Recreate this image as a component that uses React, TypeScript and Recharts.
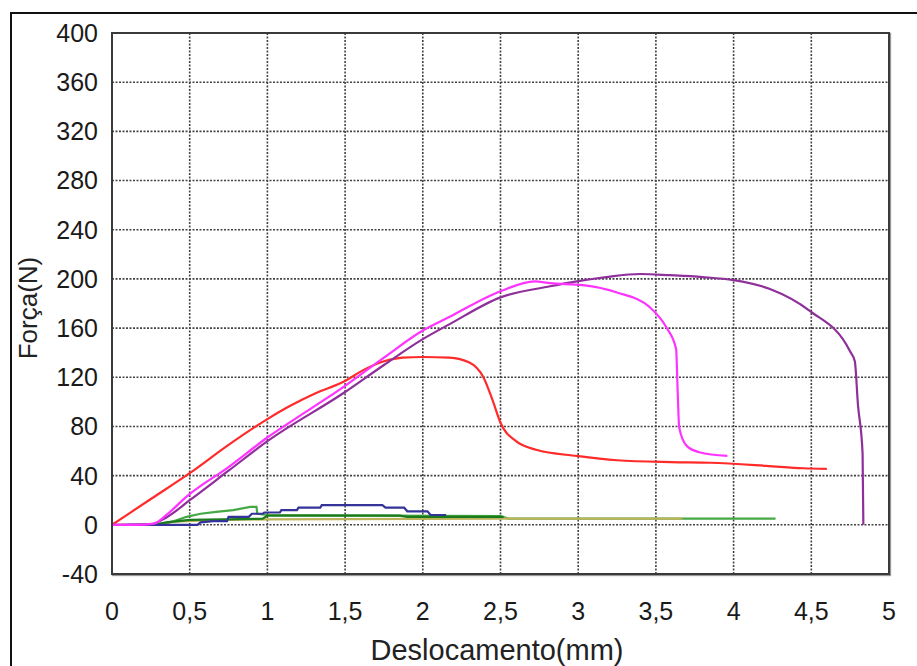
import { LineChart, Line, XAxis, YAxis, CartesianGrid, Label } from "recharts";

// deslocamento (mm) x força (N)
const vermelho = [
  { x: 0, y: 0 }, { x: 0.25, y: 21 }, { x: 0.5, y: 42 }, { x: 0.75, y: 65 },
  { x: 1.0, y: 86 }, { x: 1.15, y: 97 }, { x: 1.31, y: 107 }, { x: 1.5, y: 117 },
  { x: 1.62, y: 126 }, { x: 1.75, y: 133 }, { x: 1.87, y: 136 }, { x: 2.0, y: 136.5 },
  { x: 2.17, y: 136 }, { x: 2.3, y: 132 }, { x: 2.39, y: 120 }, { x: 2.45, y: 101 },
  { x: 2.5, y: 83 }, { x: 2.6, y: 68 }, { x: 2.73, y: 61 }, { x: 2.99, y: 56 },
  { x: 3.25, y: 52.5 }, { x: 3.6, y: 51 }, { x: 3.85, y: 50.5 }, { x: 4.21, y: 48 },
  { x: 4.45, y: 46 }, { x: 4.6, y: 45.5 },
];

const magenta = [
  { x: 0, y: 0 }, { x: 0.15, y: 0 }, { x: 0.27, y: 1 }, { x: 0.35, y: 8 },
  { x: 0.48, y: 23 }, { x: 0.75, y: 47 }, { x: 1.0, y: 71 }, { x: 1.25, y: 92 },
  { x: 1.5, y: 113 }, { x: 1.75, y: 136 }, { x: 2.0, y: 158 }, { x: 2.17, y: 169 },
  { x: 2.5, y: 190 }, { x: 2.72, y: 198 }, { x: 2.82, y: 196.5 }, { x: 3.03, y: 195 },
  { x: 3.25, y: 189 }, { x: 3.46, y: 177 }, { x: 3.57, y: 160 }, { x: 3.63, y: 143 },
  { x: 3.64, y: 109 }, { x: 3.65, y: 79 }, { x: 3.7, y: 64 }, { x: 3.78, y: 59 },
  { x: 3.96, y: 56 },
];

const roxo = [
  { x: 0, y: 0 }, { x: 0.25, y: 0.5 }, { x: 0.35, y: 6 }, { x: 0.5, y: 20 },
  { x: 0.75, y: 44 }, { x: 1.0, y: 68 }, { x: 1.5, y: 108 }, { x: 1.75, y: 130 },
  { x: 2.0, y: 151 }, { x: 2.17, y: 163 }, { x: 2.5, y: 185 }, { x: 2.82, y: 194 },
  { x: 2.99, y: 198 }, { x: 3.18, y: 201.5 }, { x: 3.4, y: 204 }, { x: 3.59, y: 203 },
  { x: 3.8, y: 201.5 }, { x: 4.0, y: 199 }, { x: 4.23, y: 192 }, { x: 4.49, y: 174 },
  { x: 4.75, y: 141 }, { x: 4.78, y: 133 }, { x: 4.8, y: 98 }, { x: 4.83, y: 58 },
  { x: 4.835, y: 0 },
];

const verdeClaro = [
  { x: 0.3, y: 0 }, { x: 0.4, y: 3 }, { x: 0.48, y: 6.5 }, { x: 0.57, y: 9 },
  { x: 0.67, y: 10.6 }, { x: 0.78, y: 12 }, { x: 0.89, y: 14.6 }, { x: 0.93, y: 14.6 },
  { x: 0.935, y: 9 }, { x: 1.0, y: 8 }, { x: 2.5, y: 7 }, { x: 2.55, y: 5 },
  { x: 4.27, y: 5 },
];

const oliva = [
  { x: 0.25, y: 0 }, { x: 0.4, y: 2.5 }, { x: 0.6, y: 3.5 }, { x: 1.0, y: 4.5 },
  { x: 2.5, y: 5 }, { x: 3.67, y: 5 },
];

const verdeEscuro = [
  { x: 0.27, y: 0 }, { x: 0.35, y: 2 }, { x: 0.5, y: 4 }, { x: 0.97, y: 5 },
  { x: 1.0, y: 7.5 }, { x: 1.85, y: 7.5 }, { x: 1.9, y: 6.5 }, { x: 2.52, y: 6.5 },
];

const azul = [
  { x: 0.1, y: 0 }, { x: 0.55, y: 0 }, { x: 0.57, y: 2 }, { x: 0.65, y: 3 },
  { x: 0.74, y: 3 }, { x: 0.75, y: 6.5 }, { x: 0.88, y: 6.5 }, { x: 0.9, y: 9 },
  { x: 0.97, y: 9 }, { x: 0.98, y: 10 }, { x: 1.08, y: 10 }, { x: 1.09, y: 12 },
  { x: 1.19, y: 12 }, { x: 1.2, y: 14 }, { x: 1.34, y: 14 }, { x: 1.35, y: 16 },
  { x: 1.74, y: 16 }, { x: 1.76, y: 14 }, { x: 1.88, y: 14 }, { x: 1.9, y: 11 },
  { x: 2.03, y: 11 }, { x: 2.05, y: 8 }, { x: 2.15, y: 8 },
];

const xTicks = [0, 0.5, 1, 1.5, 2, 2.5, 3, 3.5, 4, 4.5, 5];
const yTicks = [-40, 0, 40, 80, 120, 160, 200, 240, 280, 320, 360, 400];

const series = [
  { name: "verdeClaro", data: verdeClaro, color: "#44A844", curve: "linear" },
  { name: "oliva", data: oliva, color: "#BDB35A", curve: "linear" },
  { name: "verdeEscuro", data: verdeEscuro, color: "#1B7A1B", curve: "linear" },
  { name: "azul", data: azul, color: "#33339A", curve: "linear" },
  { name: "vermelho", data: vermelho, color: "#FF2A2A", curve: "monotone" },
  { name: "roxo", data: roxo, color: "#8E2F9A", curve: "monotone" },
  { name: "magenta", data: magenta, color: "#FF33FF", curve: "monotone" },
];

const font = "'Liberation Sans', Arial, sans-serif";
const tickStyle = { fontSize: 25, fill: "#1a1a1a", fontFamily: font };

export default function App() {
  return (
    <div style={{ position: "fixed", left: 0, top: 0, width: 917, height: 666, background: "#fff", overflow: "hidden" }}>
      <div
        style={{
          position: "absolute",
          left: 10,
          top: 12,
          width: 940,
          height: 700,
          border: "2px solid #111",
          boxSizing: "border-box",
        }}
      />
      <div style={{ position: "absolute", left: 0, top: 0 }}>
        <LineChart width={917} height={666} margin={{ top: 33, right: 28, bottom: 32, left: 32 }}>
          <CartesianGrid stroke="#444" strokeDasharray="2 1.5" strokeWidth={1.6} />
          <XAxis
            type="number"
            dataKey="x"
            domain={[0, 5]}
            ticks={xTicks}
            allowDataOverflow
            height={60}
            tickSize={0}
            tickMargin={28}
            axisLine={false}
            tick={tickStyle}
            tickFormatter={(v) => String(v).replace(".", ",")}
          >
            <Label
              content={() => (
                <text x={497} y={660} textAnchor="middle" fontSize={29} fill="#222" fontFamily={font}>
                  Deslocamento(mm)
                </text>
              )}
            />
          </XAxis>
          <YAxis
            type="number"
            domain={[-40, 400]}
            ticks={yTicks}
            allowDataOverflow
            width={80}
            tickSize={0}
            tickMargin={14}
            axisLine={false}
            tick={tickStyle}
          >
            <Label
              content={() => (
                <text
                  x={28}
                  y={308}
                  textAnchor="middle"
                  dominantBaseline="central"
                  transform="rotate(-90 28 308)"
                  fontSize={26}
                  fill="#222"
                  fontFamily={font}
                >
                  Força(N)
                </text>
              )}
            />
          </YAxis>
          {series.map((s) => (
            <Line
              key={s.name}
              data={s.data}
              dataKey="y"
              type={s.curve as "linear" | "monotone"}
              stroke={s.color}
              strokeWidth={2.2}
              dot={false}
              isAnimationActive={false}
            />
          ))}
        </LineChart>
      </div>
      <div
        style={{
          position: "absolute",
          left: 111,
          top: 32,
          width: 779,
          height: 543,
          border: "2px solid #3a3a3a",
          boxShadow: "1px 1px 1px #999",
          boxSizing: "border-box",
          pointerEvents: "none",
        }}
      />
    </div>
  );
}
